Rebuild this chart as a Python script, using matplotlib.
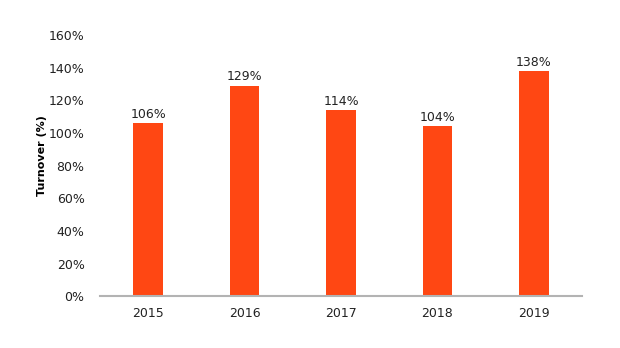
import numpy as np
import matplotlib.pyplot as plt

years = ["2015", "2016", "2017", "2018", "2019"]
turnover = [106, 129, 114, 104, 138]
yticks = [0, 20, 40, 60, 80, 100, 120, 140, 160]

fig = plt.figure(figsize=(6.2, 3.48), dpi=100)
ax = fig.add_axes([0.161, 0.149, 0.778, 0.75])
x = np.arange(len(years))
bars = ax.bar(x, turnover, width=0.31, color="#FF4713", zorder=2)
for xi, v in zip(x, turnover):
    ax.text(xi, v + 1.5, f"{v}%", ha="center", va="bottom", fontsize=9, color="#222222")

ax.set_xlim(-0.5, len(years) - 0.5)
ax.set_ylim(0, 160)
ax.set_xticks(x)
ax.set_xticklabels(years, fontsize=9, color="#222222")
ax.set_yticks(yticks)
ax.set_yticklabels([f"{t}%" for t in yticks], fontsize=9, color="#222222")
ax.tick_params(length=0, pad=8)
ax.tick_params(axis="y", pad=11)
for s in ["top", "right", "left"]:
    ax.spines[s].set_visible(False)
ax.spines["bottom"].set_color("#b3b3b3")
ax.spines["bottom"].set_linewidth(1.5)
ax.set_ylabel("Turnover (%)", fontsize=8, fontweight="bold")
ax.yaxis.set_label_coords(-0.11, 0.54)

fig.savefig("out.png", dpi=100)
